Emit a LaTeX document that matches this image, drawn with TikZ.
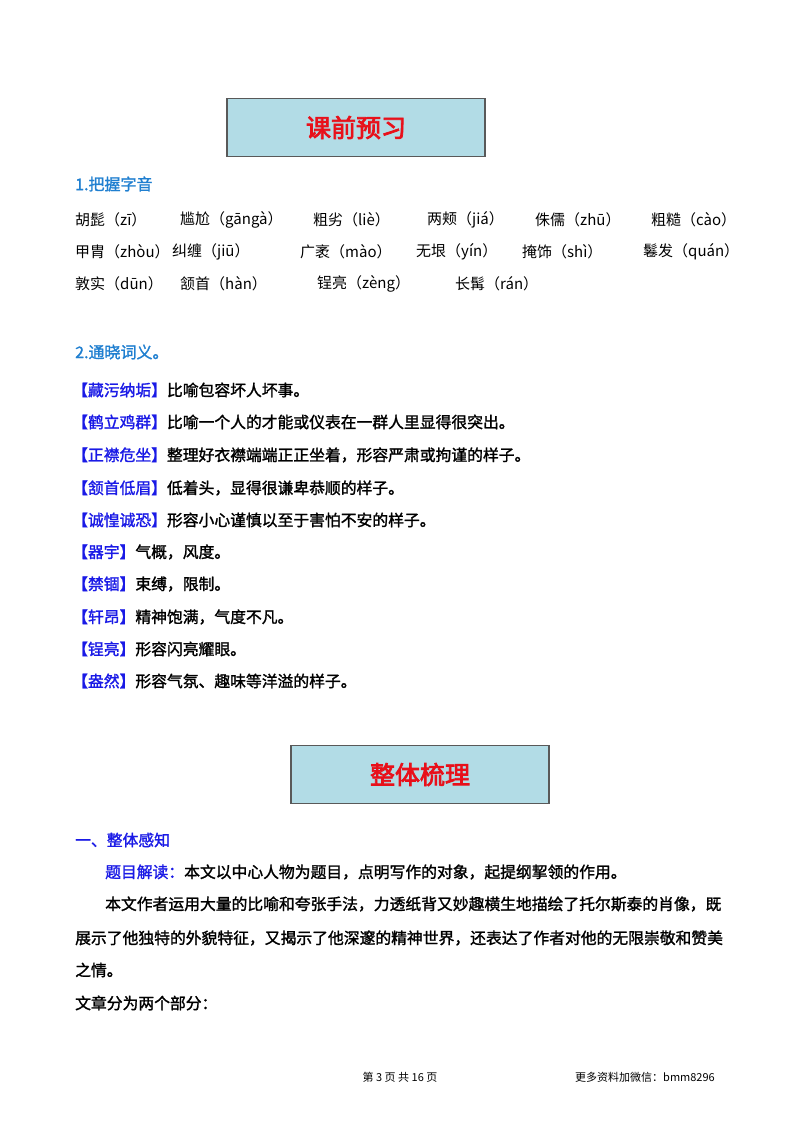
\documentclass[tikz,border=0pt]{standalone}
\usepackage{fontspec}
\setmainfont{Noto Sans CJK SC}
\newfontfamily\cjkb[FakeBold=1.5]{Noto Sans CJK SC}
\newfontfamily\cjkbb[FakeBold=3]{Noto Sans CJK SC}
\definecolor{hblue}{HTML}{1F7FD0}
\definecolor{kblue}{HTML}{1A1AE6}
\definecolor{boxfill}{HTML}{B2DCE6}
\definecolor{tred}{HTML}{E8101A}
\begin{document}
\begin{tikzpicture}[x=1pt,y=-1pt,
  t/.style={anchor=west,inner sep=0pt,font=\fontsize{15}{15}\selectfont},
  tb/.style={anchor=west,inner sep=0pt,font=\cjkb\fontsize{15.8}{15.8}\selectfont},
  hd/.style={anchor=west,inner sep=0pt,font=\cjkb\fontsize{16}{16}\selectfont,text=hblue},
  titlebox/.style={draw=gray!70!black,line width=1.5pt,fill=boxfill,minimum width=258pt,minimum height=58pt,font=\cjkbb\fontsize{25}{25}\selectfont,text=tred},
  kw/.style={text=kblue}]
\useasboundingbox (0,0) rectangle (800,1132);
\fill[white] (0,0) rectangle (800,1132);
\node[titlebox] (b1) at (356,127.5) {课前预习};
\node[hd] (h1) at (75,184) {1.把握字音};
\foreach \x/\s in {75/胡髭（zī）,180/尴尬（gāngà）,313/粗劣（liè）,427/两颊（jiá）,535/侏儒（zhū）,651/粗糙（cào）}
  \node[t] at (\x,220) {\s};
\foreach \x/\s in {75/甲胄（zhòu）,172/纠缠（jiū）,300/广袤（mào）,416/无垠（yín）,522/掩饰（shì）,643/鬈发（quán）}
  \node[t] at (\x,252) {\s};
\foreach \x/\s in {75/敦实（dūn）,180/颔首（hàn）,317/锃亮（zèng）,455/长髯（rán）}
  \node[t] at (\x,284) {\s};
\node[hd] (h2) at (75,352) {2.通晓词义。};
\foreach \y/\k/\s in {390/藏污纳垢/比喻包容坏人坏事。,
  422/鹤立鸡群/比喻一个人的才能或仪表在一群人里显得很突出。,
  455/正襟危坐/整理好衣襟端端正正坐着，形容严肃或拘谨的样子。,
  488/颔首低眉/低着头，显得很谦卑恭顺的样子。,
  520/诚惶诚恐/形容小心谨慎以至于害怕不安的样子。,
  552/器宇/气概，风度。,
  584/禁锢/束缚，限制。,
  617/轩昂/精神饱满，气度不凡。,
  649/锃亮/形容闪亮耀眼。,
  681/盎然/形容气氛、趣味等洋溢的样子。}
  \node[tb] at (72,\y) {\textcolor{kblue}{【\k】}\s};
\node[titlebox] (b2) at (420,774.5) {整体梳理};
\node[tb,kw] (h3) at (75,840) {一、整体感知};
\node[tb] (p1) at (105,872) {\textcolor{kblue}{题目解读：}本文以中心人物为题目，点明写作的对象，起提纲挈领的作用。};
\node[tb] (p2) at (105,904) {本文作者运用大量的比喻和夸张手法，力透纸背又妙趣横生地描绘了托尔斯泰的肖像，既};
\node[tb] (p3) at (75,938) {展示了他独特的外貌特征，又揭示了他深邃的精神世界，还表达了作者对他的无限崇敬和赞美};
\node[tb] (p4) at (75,970) {之情。};
\node[tb] (p5) at (75,1003) {文章分为两个部分：};
\node[anchor=center,inner sep=0pt,font=\fontsize{11}{11}\selectfont] (f1) at (400,1077) {第 3 页 共 16 页};
\node[anchor=west,inner sep=0pt,font=\fontsize{11}{11}\selectfont] (f2) at (575,1077) {更多资料加微信：bmm8296};
\end{tikzpicture}
\end{document}
